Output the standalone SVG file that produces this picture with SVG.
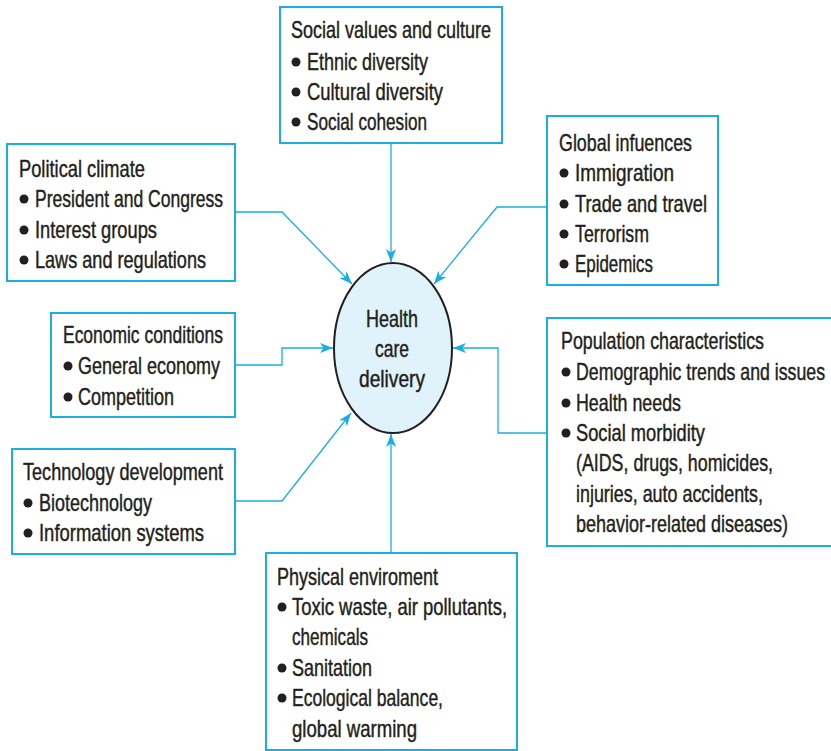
<svg xmlns="http://www.w3.org/2000/svg" width="831" height="751" viewBox="0 0 831 751">
<style>
.box{fill:#ffffff;stroke:#1aaee5;stroke-width:2}
.con{fill:none;stroke:#1aaee5;stroke-width:1.3;marker-end:url(#arr)}
.t{font-family:"Liberation Sans",Arial,sans-serif;font-size:24px;fill:#231f20;stroke:#231f20;stroke-width:0.45}
.b{fill:#231f20}
</style>
<defs>
<marker id="arr" viewBox="0 0 13 10" refX="13" refY="5" markerWidth="13" markerHeight="10" markerUnits="userSpaceOnUse" orient="auto">
<path d="M0,0 L13,5 L0,10 L3.5,5 Z" fill="#1aaee5"/>
</marker>
</defs>
<rect width="831" height="751" fill="#ffffff"/>

<g id="connectors">
<polyline class="con" points="235,212 282,212 352,284"/>
<polyline class="con" points="391,143 391,262"/>
<polyline class="con" points="547,207 497,207 434,284"/>
<polyline class="con" points="235,365 282,365 282,348 333,348"/>
<polyline class="con" points="235,501 282,501 351,413"/>
<polyline class="con" points="391,553 391,434"/>
<polyline class="con" points="547,433 498,433 498,348 453,348"/>
</g>

<g id="center">
<ellipse cx="393" cy="348" rx="59" ry="85" fill="#e0f2fa" stroke="#231f20" stroke-width="2"/>
<text class="t" x="392" y="327" text-anchor="middle" textLength="52" lengthAdjust="spacingAndGlyphs">Health</text>
<text class="t" x="392" y="357" text-anchor="middle" textLength="34" lengthAdjust="spacingAndGlyphs">care</text>
<text class="t" x="392" y="387" text-anchor="middle" textLength="66" lengthAdjust="spacingAndGlyphs">delivery</text>
</g>

<g id="social">
<rect class="box" x="280" y="7" width="222" height="136"/>
<text class="t" x="291" y="38" textLength="200" lengthAdjust="spacingAndGlyphs">Social values and culture</text>
<circle class="b" cx="296" cy="62" r="4.5"/>
<text class="t" x="307" y="70" textLength="121" lengthAdjust="spacingAndGlyphs">Ethnic diversity</text>
<circle class="b" cx="296" cy="92" r="4.5"/>
<text class="t" x="307" y="100" textLength="136" lengthAdjust="spacingAndGlyphs">Cultural diversity</text>
<circle class="b" cx="296" cy="122" r="4.5"/>
<text class="t" x="307" y="130" textLength="120" lengthAdjust="spacingAndGlyphs">Social cohesion</text>
</g>

<g id="global">
<rect class="box" x="547" y="116" width="171" height="169"/>
<text class="t" x="559" y="151" textLength="133" lengthAdjust="spacingAndGlyphs">Global infuences</text>
<circle class="b" cx="564" cy="173" r="4.5"/>
<text class="t" x="575" y="181" textLength="99" lengthAdjust="spacingAndGlyphs">Immigration</text>
<circle class="b" cx="564" cy="204" r="4.5"/>
<text class="t" x="575" y="212" textLength="132" lengthAdjust="spacingAndGlyphs">Trade and travel</text>
<circle class="b" cx="564" cy="234" r="4.5"/>
<text class="t" x="575" y="242" textLength="74" lengthAdjust="spacingAndGlyphs">Terrorism</text>
<circle class="b" cx="564" cy="264" r="4.5"/>
<text class="t" x="575" y="272" textLength="78" lengthAdjust="spacingAndGlyphs">Epidemics</text>
</g>

<g id="political">
<rect class="box" x="7" y="144" width="228" height="137"/>
<text class="t" x="19" y="177" textLength="126" lengthAdjust="spacingAndGlyphs">Political climate</text>
<circle class="b" cx="24" cy="199" r="4.5"/>
<text class="t" x="35" y="207" textLength="188" lengthAdjust="spacingAndGlyphs">President and Congress</text>
<circle class="b" cx="24" cy="230" r="4.5"/>
<text class="t" x="35" y="238" textLength="122" lengthAdjust="spacingAndGlyphs">Interest groups</text>
<circle class="b" cx="24" cy="260" r="4.5"/>
<text class="t" x="35" y="268" textLength="171" lengthAdjust="spacingAndGlyphs">Laws and regulations</text>
</g>

<g id="economic">
<rect class="box" x="51" y="313" width="184" height="104"/>
<text class="t" x="63" y="343" textLength="160" lengthAdjust="spacingAndGlyphs">Economic conditions</text>
<circle class="b" cx="68" cy="366" r="4.5"/>
<text class="t" x="78" y="374" textLength="142" lengthAdjust="spacingAndGlyphs">General economy</text>
<circle class="b" cx="68" cy="397" r="4.5"/>
<text class="t" x="78" y="405" textLength="96" lengthAdjust="spacingAndGlyphs">Competition</text>
</g>

<g id="technology">
<rect class="box" x="12" y="449" width="223" height="105"/>
<text class="t" x="23" y="480" textLength="200" lengthAdjust="spacingAndGlyphs">Technology development</text>
<circle class="b" cx="28" cy="503" r="4.5"/>
<text class="t" x="39" y="511" textLength="113" lengthAdjust="spacingAndGlyphs">Biotechnology</text>
<circle class="b" cx="28" cy="533" r="4.5"/>
<text class="t" x="39" y="541" textLength="165" lengthAdjust="spacingAndGlyphs">Information systems</text>
</g>

<g id="physical">
<rect class="box" x="266" y="553" width="251" height="197"/>
<text class="t" x="277" y="585" textLength="161" lengthAdjust="spacingAndGlyphs">Physical enviroment</text>
<circle class="b" cx="282" cy="607" r="4.5"/>
<text class="t" x="292" y="615" textLength="215" lengthAdjust="spacingAndGlyphs">Toxic waste, air pollutants,</text>
<text class="t" x="292" y="645" textLength="76" lengthAdjust="spacingAndGlyphs">chemicals</text>
<circle class="b" cx="282" cy="668" r="4.5"/>
<text class="t" x="292" y="676" textLength="80" lengthAdjust="spacingAndGlyphs">Sanitation</text>
<circle class="b" cx="282" cy="698" r="4.5"/>
<text class="t" x="292" y="706" textLength="151" lengthAdjust="spacingAndGlyphs">Ecological balance,</text>
<text class="t" x="292" y="737" textLength="125" lengthAdjust="spacingAndGlyphs">global warming</text>
</g>

<g id="population">
<path class="box" d="M831,318 H547 V546 H831"/>
<text class="t" x="561" y="349" textLength="203" lengthAdjust="spacingAndGlyphs">Population characteristics</text>
<circle class="b" cx="566" cy="372" r="4.5"/>
<text class="t" x="576" y="380" textLength="249" lengthAdjust="spacingAndGlyphs">Demographic trends and issues</text>
<circle class="b" cx="566" cy="403" r="4.5"/>
<text class="t" x="576" y="411" textLength="105" lengthAdjust="spacingAndGlyphs">Health needs</text>
<circle class="b" cx="566" cy="433" r="4.5"/>
<text class="t" x="576" y="441" textLength="129" lengthAdjust="spacingAndGlyphs">Social morbidity</text>
<text class="t" x="576" y="471" textLength="197" lengthAdjust="spacingAndGlyphs">(AIDS, drugs, homicides,</text>
<text class="t" x="576" y="502" textLength="187" lengthAdjust="spacingAndGlyphs">injuries, auto accidents,</text>
<text class="t" x="576" y="532" textLength="212" lengthAdjust="spacingAndGlyphs">behavior-related diseases)</text>
</g>
</svg>
